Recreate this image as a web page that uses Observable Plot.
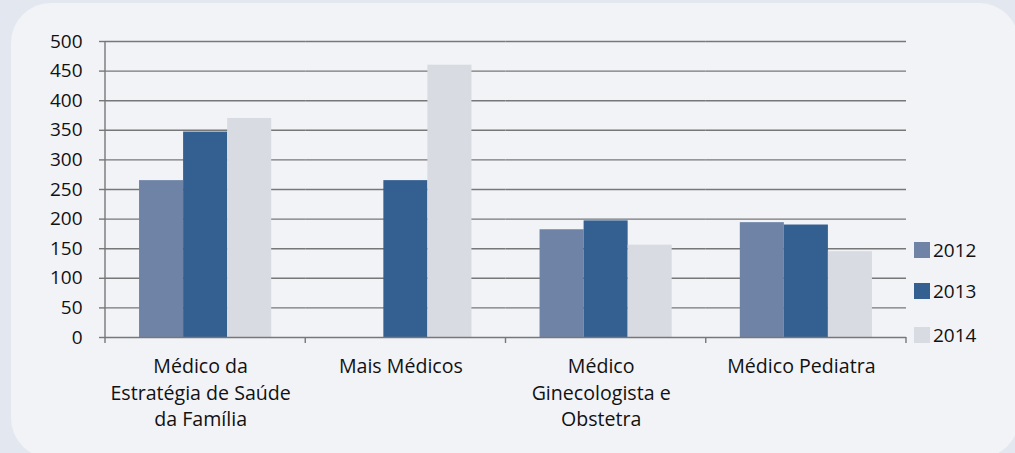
<!DOCTYPE html>
<html>
<head>
<meta charset="utf-8">
<script src="https://cdn.jsdelivr.net/npm/d3@7"></script>
<script src="https://cdn.jsdelivr.net/npm/@observablehq/plot@0.6"></script>
<style>
  html, body { margin: 0; padding: 0; }
  body { width: 1015px; height: 453px; background: #e3e8f0; position: relative; overflow: hidden; font-family: "Open Sans", sans-serif; }
  #panel { position: absolute; left: 11px; top: 3px; width: 1008px; height: 455px; background: #f2f3f7; border-radius: 40px; }
  #chart { position: absolute; left: 0; top: 0; }
  #legend { position: absolute; left: 914px; top: 0; font-size: 19px; color: #111; }
  .li { position: absolute; left: 0; display: flex; align-items: center; white-space: nowrap; }
  .sw { width: 16px; height: 16px; margin-right: 3px; }
</style>
</head>
<body>
<div id="panel"></div>
<div id="chart"></div>
<div id="legend"></div>
<script>
const categories = ["Médico da Estratégia de Saúde da Família", "Mais Médicos", "Médico Ginecologista e Obstetra", "Médico Pediatra"];
const categoryLabels = ["Médico da\nEstratégia de Saúde\nda Família", "Mais Médicos", "Médico\nGinecologista e\nObstetra", "Médico Pediatra"];
const years = ["2012", "2013", "2014"];
const values2012 = [265, 0, 182, 194];
const values2013 = [347, 265, 197, 190];
const values2014 = [370, 460, 156, 145];
const yTicks = [0, 50, 100, 150, 200, 250, 300, 350, 400, 450, 500];
const colors = ["#6f83a7", "#345f91", "#d9dbe3"];

const series = [values2012, values2013, values2014];
const data = [];
categories.forEach((c, i) => years.forEach((y, j) => data.push({category: c, year: y, value: series[j][i]})));

const labelOf = new Map(categories.map((c, i) => [c, categoryLabels[i]]));
const gridColor = "#777";

const chart = Plot.plot({
  width: 1015,
  height: 453,
  marginLeft: 105,
  marginRight: 109,
  marginTop: 41,
  marginBottom: 116,
  style: {background: "transparent", fontFamily: "'Open Sans', sans-serif", fontSize: "19px", color: "#111"},
  fx: {domain: categories, padding: 0, round: false, label: null},
  x: {domain: years, paddingInner: 0, paddingOuter: 0.773, round: false, axis: null},
  y: {domain: [0, 500], label: null},
  color: {domain: years, range: colors},
  marks: [
    Plot.ruleY(yTicks.filter(d => d > 0), {stroke: gridColor, strokeWidth: 1.4}),
    Plot.barY(data, {fx: "category", x: "year", y: "value", fill: "year"}),
    Plot.axisY({ticks: yTicks, tickSize: 6, tickPadding: 17, stroke: gridColor, strokeWidth: 1.4, fontSize: 19, label: null, facetAnchor: "left"}),
    Plot.axisFx({anchor: "bottom", tickSize: 0, tickPadding: 17, lineHeight: 1.35, dx: -5, tickFormat: d => labelOf.get(d), fontSize: 19.6, label: null}),
    Plot.ruleY([0], {stroke: gridColor, strokeWidth: 1.4})
  ]
});
document.getElementById("chart").appendChild(chart);

// y axis line and category boundary ticks, positioned with Plot's own fx scale
const fx = chart.scale("fx");
const svg = d3.select(chart);
const y = chart.scale("y");
const y0 = y.apply(0), y1 = y.apply(500);
const bw = fx.bandwidth;
const bounds = categories.map(c => fx.apply(c)).concat([fx.apply(categories[categories.length - 1]) + bw]);
const g = svg.append("g").attr("stroke", gridColor).attr("stroke-width", 1.4);
g.append("line").attr("x1", bounds[0]).attr("x2", bounds[0]).attr("y1", y1).attr("y2", y0);
bounds.forEach(b => g.append("line").attr("x1", b).attr("x2", b).attr("y1", y0).attr("y2", y0 + 6));

// legend
const legendTops = [242, 283, 327];
const legend = d3.select("#legend");
years.forEach((yr, i) => {
  const item = legend.append("div").attr("class", "li").style("top", (legendTops[i] - 4) + "px").style("height", "24px");
  item.append("div").attr("class", "sw").style("background", colors[i]);
  item.append("span").text(yr);
});
</script>
</body>
</html>
